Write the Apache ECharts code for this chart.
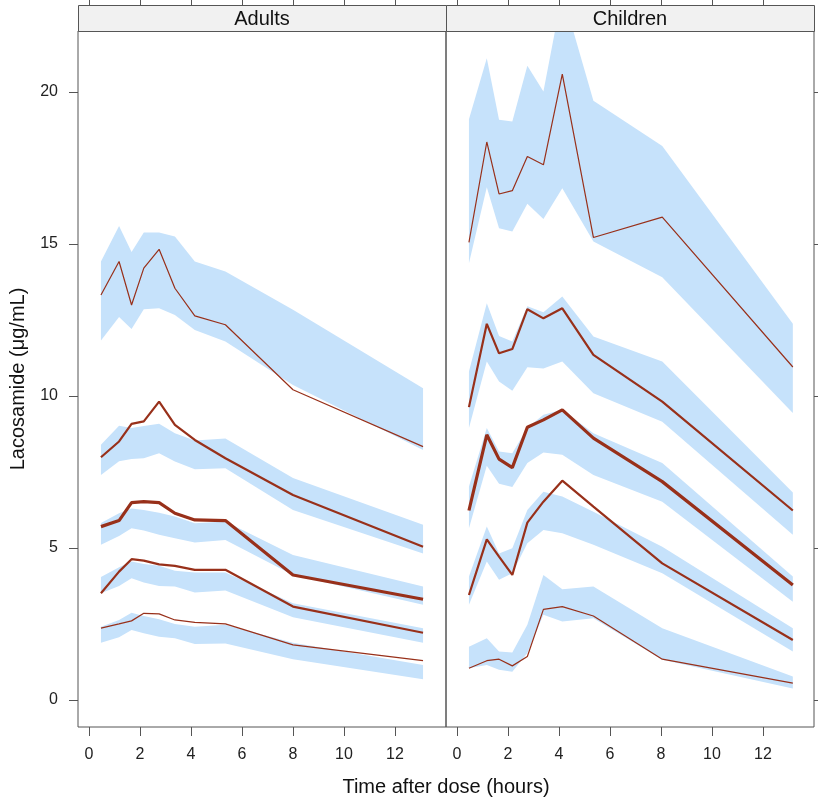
<!DOCTYPE html>
<html>
<head>
<meta charset="utf-8">
<script src="https://cdn.jsdelivr.net/npm/echarts@6/dist/echarts.min.js"></script>
<style>html,body{margin:0;padding:0;background:#fff}#c{width:818px;height:799px}</style>
</head>
<body>
<div id="c"></div>
<script>
// ---- data ----
const panels = ['Adults', 'Children'];
const xTicks = [0, 2, 4, 6, 8, 10, 12];
const yTicks = [0, 5, 10, 15, 20];

const adultTimes = [0.47, 1.18, 1.67, 2.15, 2.75, 3.37, 4.15, 5.35, 8.0, 13.1];
const childTimes = [0.47, 1.17, 1.65, 2.17, 2.76, 3.39, 4.13, 5.35, 8.05, 13.17];

// Adults: observed percentiles and simulated bands
const adP95   = [13.32, 14.42, 12.99, 14.2, 14.82, 13.54, 12.63, 12.34, 10.2, 8.33];
const adP95Hi = [14.42, 15.59, 14.73, 15.37, 15.37, 15.24, 14.42, 14.09, 12.83, 10.25];
const adP95Lo = [11.82, 12.59, 12.2, 12.85, 12.88, 12.66, 12.17, 11.79, 10.36, 8.22];
const adP75   = [7.98, 8.5, 9.08, 9.16, 9.81, 9.05, 8.55, 7.95, 6.74, 5.04];
const adP75Hi = [8.39, 9.02, 8.94, 9.01, 9.08, 8.77, 8.53, 8.6, 7.3, 5.76];
const adP75Lo = [7.4, 7.85, 7.92, 7.95, 8.11, 7.84, 7.59, 7.62, 6.25, 4.82];
const adP50   = [5.7, 5.9, 6.49, 6.52, 6.49, 6.14, 5.92, 5.9, 4.11, 3.31];
const adP50Hi = [5.82, 6.14, 6.3, 6.25, 6.16, 6.03, 5.81, 5.87, 4.77, 3.73];
const adP50Lo = [5.1, 5.39, 5.65, 5.57, 5.43, 5.32, 5.18, 5.26, 4.11, 3.13];
const adP25   = [3.51, 4.22, 4.63, 4.58, 4.46, 4.41, 4.28, 4.28, 3.07, 2.21];
const adP25Hi = [4.04, 4.36, 4.55, 4.47, 4.41, 4.25, 4.19, 4.19, 3.18, 2.36];
const adP25Lo = [3.51, 3.75, 4.0, 3.86, 3.75, 3.73, 3.53, 3.6, 2.72, 1.88];
const adP05   = [2.36, 2.5, 2.6, 2.85, 2.83, 2.63, 2.55, 2.5, 1.81, 1.29];
const adP05Hi = [2.41, 2.63, 2.87, 2.76, 2.65, 2.5, 2.41, 2.47, 1.88, 1.15];
const adP05Lo = [1.88, 2.06, 2.3, 2.19, 2.08, 2.03, 1.84, 1.86, 1.34, 0.68];

// Children
const chP95   = [15.05, 18.35, 16.64, 16.75, 17.87, 17.6, 20.58, 15.21, 15.88, 10.95];
const chP95Hi = [19.1, 21.1, 19.08, 19.02, 20.86, 20.01, 23.25, 19.71, 18.22, 12.37];
const chP95Lo = [14.36, 16.86, 15.51, 15.41, 16.32, 15.82, 16.83, 15.08, 13.9, 9.44];
const chP75   = [9.63, 12.37, 11.4, 11.54, 12.85, 12.55, 12.88, 11.35, 9.81, 6.23];
const chP75Hi = [10.8, 13.05, 11.97, 11.79, 12.95, 12.75, 13.27, 11.95, 11.13, 6.82];
const chP75Lo = [8.94, 11.13, 10.47, 10.17, 10.94, 10.9, 11.13, 10.09, 9.15, 5.43];
const chP50   = [6.23, 8.72, 7.92, 7.64, 8.97, 9.21, 9.54, 8.61, 7.18, 3.78];
const chP50Hi = [7.02, 8.94, 8.17, 8.11, 8.94, 9.38, 9.54, 8.77, 7.79, 4.06];
const chP50Lo = [5.65, 7.7, 7.11, 7.0, 7.79, 8.14, 8.06, 7.4, 6.52, 3.23];
const chP25   = [3.45, 5.28, 4.71, 4.11, 5.83, 6.52, 7.21, 6.36, 4.49, 1.97];
const chP25Hi = [4.06, 5.7, 4.82, 4.99, 6.25, 6.85, 6.69, 6.19, 5.04, 2.36];
const chP25Lo = [3.13, 4.55, 3.95, 4.17, 5.15, 5.59, 5.48, 5.1, 4.17, 1.59];
const chP05   = [1.04, 1.29, 1.34, 1.12, 1.43, 2.98, 3.07, 2.76, 1.34, 0.55];
const chP05Hi = [1.75, 2.03, 1.59, 1.56, 2.47, 4.11, 3.64, 3.73, 2.36, 0.77];
const chP05Lo = [1.04, 1.15, 0.99, 0.93, 1.54, 2.8, 2.58, 2.69, 1.32, 0.38];

// ---- styling ----
const FONT = '"Liberation Sans", Arial, Helvetica, sans-serif';
const BAND = '#c6e2fb';
const LINE = '#98301a';
const AXC = '#555';
const widths = [1.2, 2.2, 3.2, 2.2, 1.2];

const gridL = 78, gridT = 31, gridW = 368, gridH = 696;
const xMin = -0.43, xMax = 14.0, yMin = -0.89, yMax = 22.0;

function bandSeries(gi, times, lo, hi) {
  return {
    type: 'custom', xAxisIndex: gi * 2, yAxisIndex: gi, z: 2, silent: true,
    encode: { x: 0, y: [1, 2] },
    data: times.map((t, i) => [t, lo[i], hi[i]]),
    renderItem: function (params, api) {
      if (params.dataIndexInside !== 0) return null;
      const n = params.dataInsideLength;
      const pts = [];
      for (let i = 0; i < n; i++) pts.push(api.coord([api.value(0, i), api.value(2, i)]));
      for (let i = n - 1; i >= 0; i--) pts.push(api.coord([api.value(0, i), api.value(1, i)]));
      const cs = params.coordSys;
      return {
        type: 'polygon', shape: { points: pts }, style: { fill: BAND },
        clipPath: { type: 'rect', shape: { x: cs.x, y: cs.y, width: cs.width, height: cs.height } }
      };
    }
  };
}
function lineSeries(gi, times, vals, w) {
  return {
    type: 'line', xAxisIndex: gi * 2, yAxisIndex: gi, z: 5, silent: true,
    symbol: 'none', animation: false,
    data: times.map((t, i) => [t, vals[i]]),
    lineStyle: { color: LINE, width: w }
  };
}

const series = [];
const adultBands = [[adP95Lo, adP95Hi], [adP75Lo, adP75Hi], [adP50Lo, adP50Hi], [adP25Lo, adP25Hi], [adP05Lo, adP05Hi]];
const childBands = [[chP95Lo, chP95Hi], [chP75Lo, chP75Hi], [chP50Lo, chP50Hi], [chP25Lo, chP25Hi], [chP05Lo, chP05Hi]];
const adultLines = [adP95, adP75, adP50, adP25, adP05];
const childLines = [chP95, chP75, chP50, chP25, chP05];
adultBands.forEach(b => series.push(bandSeries(0, adultTimes, b[0], b[1])));
childBands.forEach(b => series.push(bandSeries(1, childTimes, b[0], b[1])));
adultLines.forEach((l, k) => series.push(lineSeries(0, adultTimes, l, widths[k])));
childLines.forEach((l, k) => series.push(lineSeries(1, childTimes, l, widths[k])));

const grids = [0, 1].map(i => ({
  left: gridL + i * gridW, top: gridT, width: gridW, height: gridH,
  show: true, borderColor: AXC, borderWidth: 1, backgroundColor: 'transparent'
}));

const xAxes = [];
[0, 1].forEach(i => {
  xAxes.push({
    type: 'value', gridIndex: i, position: 'bottom', min: xMin, max: xMax,
    axisLine: { show: false, onZero: false }, splitLine: { show: false },
    axisTick: { show: true, inside: false, length: 9, lineStyle: { color: AXC }, customValues: xTicks },
    axisLabel: { show: true, margin: 20, fontFamily: FONT, fontSize: 16, color: '#222', customValues: xTicks }
  });
  xAxes.push({
    type: 'value', gridIndex: i, position: 'top', offset: 26, min: xMin, max: xMax,
    axisLine: { show: false, onZero: false }, splitLine: { show: false },
    axisTick: { show: true, inside: false, length: 9, lineStyle: { color: AXC }, customValues: xTicks },
    axisLabel: { show: false }
  });
});

const yAxes = [
  {
    type: 'value', gridIndex: 0, position: 'left', min: yMin, max: yMax,
    axisLine: { show: false, onZero: false }, splitLine: { show: false },
    axisTick: { show: true, inside: false, length: 9, lineStyle: { color: AXC }, customValues: yTicks },
    axisLabel: { show: true, margin: 20, fontFamily: FONT, fontSize: 16, color: '#222', customValues: yTicks },
    name: 'Lacosamide (μg/mL)', nameLocation: 'middle', nameGap: 50,
    nameTextStyle: { fontFamily: FONT, fontSize: 20, color: '#111' }
  },
  {
    type: 'value', gridIndex: 1, position: 'right', min: yMin, max: yMax,
    axisLine: { show: false, onZero: false }, splitLine: { show: false },
    axisTick: { show: true, inside: false, length: 9, lineStyle: { color: AXC }, customValues: yTicks },
    axisLabel: { show: false }
  }
];

const graphic = [];
panels.forEach((p, i) => {
  graphic.push({
    type: 'rect', z: 100, silent: true,
    shape: { x: gridL + i * gridW + 0.5, y: 5.5, width: gridW, height: gridT - 5 },
    style: { fill: '#f1f1f1', stroke: AXC, lineWidth: 1 }
  });
  graphic.push({
    type: 'text', z: 101, silent: true,
    x: gridL + i * gridW + gridW / 2, y: 19.5,
    style: { text: p, fontFamily: FONT, fontSize: 20, fill: '#111', align: 'center', verticalAlign: 'middle' }
  });
});
graphic.push({
  type: 'text', z: 101, silent: true,
  x: gridL + gridW, y: 787,
  style: { text: 'Time after dose (hours)', fontFamily: FONT, fontSize: 20, fill: '#111', align: 'center', verticalAlign: 'middle' }
});

const chart = echarts.init(document.getElementById('c'), null, { renderer: 'canvas' });
chart.setOption({
  animation: false,
  backgroundColor: '#fff',
  grid: grids,
  xAxis: xAxes,
  yAxis: yAxes,
  series: series,
  graphic: graphic
});
</script>
</body>
</html>
